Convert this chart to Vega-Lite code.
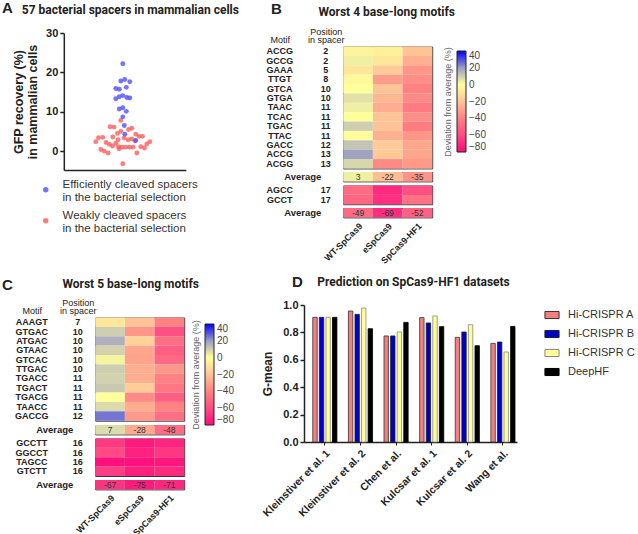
{
  "$schema": "https://vega.github.io/schema/vega-lite/v6.json",
  "padding": {"left": 2, "top": 0, "right": 0, "bottom": 4},
  "config": {
    "font": "Liberation Sans",
    "view": {"stroke": null},
    "axis": {"grid": false, "domainColor": "#222", "tickColor": "#222", "labelColor": "#222", "titleColor": "#222"},
    "title": {"color": "#222"}
  },
  "datasets": {
    "a": [
      {"gfp": 7.8, "jit": -2, "grp": "Weakly cleaved spacers"},
      {"gfp": 6.2, "jit": -12.7, "grp": "Weakly cleaved spacers"},
      {"gfp": 6.1, "jit": -8.7, "grp": "Weakly cleaved spacers"},
      {"gfp": 5.8, "jit": 9, "grp": "Weakly cleaved spacers"},
      {"gfp": 5.5, "jit": 5.7, "grp": "Weakly cleaved spacers"},
      {"gfp": 5.0, "jit": -2, "grp": "Weakly cleaved spacers"},
      {"gfp": 4.5, "jit": -5.3, "grp": "Weakly cleaved spacers"},
      {"gfp": 4.3, "jit": 13, "grp": "Weakly cleaved spacers"},
      {"gfp": 3.6, "jit": -10, "grp": "Weakly cleaved spacers"},
      {"gfp": 3.75, "jit": 16.3, "grp": "Weakly cleaved spacers"},
      {"gfp": 3.75, "jit": 19.7, "grp": "Weakly cleaved spacers"},
      {"gfp": 3.4, "jit": -24.3, "grp": "Weakly cleaved spacers"},
      {"gfp": 3.5, "jit": -20, "grp": "Weakly cleaved spacers"},
      {"gfp": 3.3, "jit": 1.3, "grp": "Weakly cleaved spacers"},
      {"gfp": 3.1, "jit": 9, "grp": "Weakly cleaved spacers"},
      {"gfp": 2.9, "jit": -4.7, "grp": "Weakly cleaved spacers"},
      {"gfp": 2.9, "jit": 5.3, "grp": "Weakly cleaved spacers"},
      {"gfp": 2.4, "jit": -27, "grp": "Weakly cleaved spacers"},
      {"gfp": 2.4, "jit": 27, "grp": "Weakly cleaved spacers"},
      {"gfp": 2.2, "jit": -16.7, "grp": "Weakly cleaved spacers"},
      {"gfp": 1.8, "jit": 24, "grp": "Weakly cleaved spacers"},
      {"gfp": 1.7, "jit": -13.3, "grp": "Weakly cleaved spacers"},
      {"gfp": 1.3, "jit": -10.3, "grp": "Weakly cleaved spacers"},
      {"gfp": 1.0, "jit": -0.7, "grp": "Weakly cleaved spacers"},
      {"gfp": 1.0, "jit": 3, "grp": "Weakly cleaved spacers"},
      {"gfp": 1.0, "jit": 6.7, "grp": "Weakly cleaved spacers"},
      {"gfp": 1.0, "jit": 10.3, "grp": "Weakly cleaved spacers"},
      {"gfp": 1.1, "jit": -4.3, "grp": "Weakly cleaved spacers"},
      {"gfp": 1.1, "jit": 18, "grp": "Weakly cleaved spacers"},
      {"gfp": 0.8, "jit": 21.7, "grp": "Weakly cleaved spacers"},
      {"gfp": 0.4, "jit": -22, "grp": "Weakly cleaved spacers"},
      {"gfp": 0.0, "jit": -18.7, "grp": "Weakly cleaved spacers"},
      {"gfp": -0.5, "jit": -14.7, "grp": "Weakly cleaved spacers"},
      {"gfp": -0.5, "jit": 14, "grp": "Weakly cleaved spacers"},
      {"gfp": 0.6, "jit": -3.7, "grp": "Weakly cleaved spacers"},
      {"gfp": -3.2, "jit": 0, "grp": "Weakly cleaved spacers"},
      {"gfp": 2.0, "jit": -7, "grp": "Weakly cleaved spacers"},
      {"gfp": 2.6, "jit": 12, "grp": "Weakly cleaved spacers"},
      {"gfp": 22.2, "jit": 0, "grp": "Efficiently cleaved spacers"},
      {"gfp": 17.8, "jit": -2, "grp": "Efficiently cleaved spacers"},
      {"gfp": 18.2, "jit": 2, "grp": "Efficiently cleaved spacers"},
      {"gfp": 17.6, "jit": 7, "grp": "Efficiently cleaved spacers"},
      {"gfp": 15.9, "jit": -7, "grp": "Efficiently cleaved spacers"},
      {"gfp": 15.7, "jit": -3.5, "grp": "Efficiently cleaved spacers"},
      {"gfp": 16.2, "jit": 3.5, "grp": "Efficiently cleaved spacers"},
      {"gfp": 13.3, "jit": -7, "grp": "Efficiently cleaved spacers"},
      {"gfp": 13.8, "jit": -3.5, "grp": "Efficiently cleaved spacers"},
      {"gfp": 14.1, "jit": 0, "grp": "Efficiently cleaved spacers"},
      {"gfp": 13.6, "jit": 4, "grp": "Efficiently cleaved spacers"},
      {"gfp": 13.5, "jit": 7, "grp": "Efficiently cleaved spacers"},
      {"gfp": 10.7, "jit": -3.5, "grp": "Efficiently cleaved spacers"},
      {"gfp": 11.0, "jit": 0, "grp": "Efficiently cleaved spacers"},
      {"gfp": 10.1, "jit": 3.5, "grp": "Efficiently cleaved spacers"},
      {"gfp": 8.7, "jit": 0, "grp": "Efficiently cleaved spacers"},
      {"gfp": 6.5, "jit": 1.5, "grp": "Efficiently cleaved spacers"},
      {"gfp": 4.3, "jit": 2, "grp": "Efficiently cleaved spacers"},
      {"gfp": 2.7, "jit": 13, "grp": "Efficiently cleaved spacers"}
    ],
    "b4": [
      {"grp": "m", "key": "ACCG 2", "motif": "ACCG", "pos": "2", "WT-SpCas9": -4, "eSpCas9": -5, "SpCas9-HF1": -20},
      {"grp": "m", "key": "GCCG 2", "motif": "GCCG", "pos": "2", "WT-SpCas9": 3, "eSpCas9": -8, "SpCas9-HF1": -26},
      {"grp": "m", "key": "GAAA 5", "motif": "GAAA", "pos": "5", "WT-SpCas9": -8, "eSpCas9": -18, "SpCas9-HF1": -34},
      {"grp": "m", "key": "TTGT 8", "motif": "TTGT", "pos": "8", "WT-SpCas9": -2, "eSpCas9": -32, "SpCas9-HF1": -36},
      {"grp": "m", "key": "GTCA 10", "motif": "GTCA", "pos": "10", "WT-SpCas9": 0, "eSpCas9": -20, "SpCas9-HF1": -40},
      {"grp": "m", "key": "GTGA 10", "motif": "GTGA", "pos": "10", "WT-SpCas9": 6, "eSpCas9": -24, "SpCas9-HF1": -38},
      {"grp": "m", "key": "TAAC 11", "motif": "TAAC", "pos": "11", "WT-SpCas9": 3, "eSpCas9": -27, "SpCas9-HF1": -43},
      {"grp": "m", "key": "TCAC 11", "motif": "TCAC", "pos": "11", "WT-SpCas9": 0, "eSpCas9": -20, "SpCas9-HF1": -36},
      {"grp": "m", "key": "TGAC 11", "motif": "TGAC", "pos": "11", "WT-SpCas9": 10, "eSpCas9": -20, "SpCas9-HF1": -42},
      {"grp": "m", "key": "TTAC 11", "motif": "TTAC", "pos": "11", "WT-SpCas9": -1, "eSpCas9": -26, "SpCas9-HF1": -34},
      {"grp": "m", "key": "GACC 12", "motif": "GACC", "pos": "12", "WT-SpCas9": 12, "eSpCas9": -18, "SpCas9-HF1": -29},
      {"grp": "m", "key": "ACCG 13", "motif": "ACCG", "pos": "13", "WT-SpCas9": 19, "eSpCas9": -18, "SpCas9-HF1": -29},
      {"grp": "m", "key": "ACGG 13", "motif": "ACGG", "pos": "13", "WT-SpCas9": 8, "eSpCas9": -38, "SpCas9-HF1": -33},
      {"grp": "a1", "key": "Average", "WT-SpCas9": 3, "eSpCas9": -22, "SpCas9-HF1": -35},
      {"grp": "g2", "key": "AGCC 17", "motif": "AGCC", "pos": "17", "WT-SpCas9": -48, "eSpCas9": -70, "SpCas9-HF1": -58},
      {"grp": "g2", "key": "GCCT 17", "motif": "GCCT", "pos": "17", "WT-SpCas9": -50, "eSpCas9": -68, "SpCas9-HF1": -46},
      {"grp": "a2", "key": "Average", "WT-SpCas9": -49, "eSpCas9": -69, "SpCas9-HF1": -52}
    ],
    "c5": [
      {"grp": "m", "key": "AAAGT 7", "motif": "AAAGT", "pos": "7", "WT-SpCas9": -8, "eSpCas9": -20, "SpCas9-HF1": -40},
      {"grp": "m", "key": "GTGAC 10", "motif": "GTGAC", "pos": "10", "WT-SpCas9": 10, "eSpCas9": -34, "SpCas9-HF1": -58},
      {"grp": "m", "key": "ATGAC 10", "motif": "ATGAC", "pos": "10", "WT-SpCas9": 16, "eSpCas9": -15, "SpCas9-HF1": -47},
      {"grp": "m", "key": "GTAAC 10", "motif": "GTAAC", "pos": "10", "WT-SpCas9": 9, "eSpCas9": -29, "SpCas9-HF1": -53},
      {"grp": "m", "key": "GTCAC 10", "motif": "GTCAC", "pos": "10", "WT-SpCas9": 2, "eSpCas9": -30, "SpCas9-HF1": -49},
      {"grp": "m", "key": "TTGAC 10", "motif": "TTGAC", "pos": "10", "WT-SpCas9": 10, "eSpCas9": -27, "SpCas9-HF1": -34},
      {"grp": "m", "key": "TGACC 11", "motif": "TGACC", "pos": "11", "WT-SpCas9": 9, "eSpCas9": -27, "SpCas9-HF1": -40},
      {"grp": "m", "key": "TGACT 11", "motif": "TGACT", "pos": "11", "WT-SpCas9": 11, "eSpCas9": -17, "SpCas9-HF1": -44},
      {"grp": "m", "key": "TGACG 11", "motif": "TGACG", "pos": "11", "WT-SpCas9": 0, "eSpCas9": -38, "SpCas9-HF1": -53},
      {"grp": "m", "key": "TAACC 11", "motif": "TAACC", "pos": "11", "WT-SpCas9": 7, "eSpCas9": -27, "SpCas9-HF1": -40},
      {"grp": "m", "key": "GACCG 12", "motif": "GACCG", "pos": "12", "WT-SpCas9": 25, "eSpCas9": -33, "SpCas9-HF1": -47},
      {"grp": "a1", "key": "Average", "WT-SpCas9": 7, "eSpCas9": -28, "SpCas9-HF1": -48},
      {"grp": "g2", "key": "GCCTT 16", "motif": "GCCTT", "pos": "16", "WT-SpCas9": -65, "eSpCas9": -75, "SpCas9-HF1": -72},
      {"grp": "g2", "key": "GGCCT 16", "motif": "GGCCT", "pos": "16", "WT-SpCas9": -60, "eSpCas9": -73, "SpCas9-HF1": -66},
      {"grp": "g2", "key": "TAGCC 16", "motif": "TAGCC", "pos": "16", "WT-SpCas9": -78, "eSpCas9": -78, "SpCas9-HF1": -76},
      {"grp": "g2", "key": "GTCTT 16", "motif": "GTCTT", "pos": "16", "WT-SpCas9": -64, "eSpCas9": -74, "SpCas9-HF1": -70},
      {"grp": "a2", "key": "Average", "WT-SpCas9": -67, "eSpCas9": -75, "SpCas9-HF1": -71}
    ],
    "d": [
      {"ds": "Kleinstiver et al. 1", "model": "Hi-CRISPR A", "g": 0.91},
      {"ds": "Kleinstiver et al. 1", "model": "Hi-CRISPR B", "g": 0.91},
      {"ds": "Kleinstiver et al. 1", "model": "Hi-CRISPR C", "g": 0.91},
      {"ds": "Kleinstiver et al. 1", "model": "DeepHF", "g": 0.91},
      {"ds": "Kleinstiver et al. 2", "model": "Hi-CRISPR A", "g": 0.956},
      {"ds": "Kleinstiver et al. 2", "model": "Hi-CRISPR B", "g": 0.932},
      {"ds": "Kleinstiver et al. 2", "model": "Hi-CRISPR C", "g": 0.978},
      {"ds": "Kleinstiver et al. 2", "model": "DeepHF", "g": 0.827},
      {"ds": "Chen et al.", "model": "Hi-CRISPR A", "g": 0.774},
      {"ds": "Chen et al.", "model": "Hi-CRISPR B", "g": 0.774},
      {"ds": "Chen et al.", "model": "Hi-CRISPR C", "g": 0.803},
      {"ds": "Chen et al.", "model": "DeepHF", "g": 0.873},
      {"ds": "Kulcsar et al. 1", "model": "Hi-CRISPR A", "g": 0.908},
      {"ds": "Kulcsar et al. 1", "model": "Hi-CRISPR B", "g": 0.869},
      {"ds": "Kulcsar et al. 1", "model": "Hi-CRISPR C", "g": 0.92},
      {"ds": "Kulcsar et al. 1", "model": "DeepHF", "g": 0.842},
      {"ds": "Kulcsar et al. 2", "model": "Hi-CRISPR A", "g": 0.764},
      {"ds": "Kulcsar et al. 2", "model": "Hi-CRISPR B", "g": 0.803},
      {"ds": "Kulcsar et al. 2", "model": "Hi-CRISPR C", "g": 0.856},
      {"ds": "Kulcsar et al. 2", "model": "DeepHF", "g": 0.703},
      {"ds": "Wang et al.", "model": "Hi-CRISPR A", "g": 0.72},
      {"ds": "Wang et al.", "model": "Hi-CRISPR B", "g": 0.73},
      {"ds": "Wang et al.", "model": "Hi-CRISPR C", "g": 0.657},
      {"ds": "Wang et al.", "model": "DeepHF", "g": 0.844}
    ]
  },
  "resolve": {"scale": {"color": "independent"}, "legend": {"color": "independent"}},
  "spacing": 9,
  "vconcat": [
    {
      "resolve": {"scale": {"color": "independent"}, "legend": {"color": "independent"}},
      "spacing": 27,
      "hconcat": [
        {
          "bounds": "flush",
          "spacing": 44.8,
          "hconcat": [
            {"width": 1, "height": 1, "data": {"values": []}, "mark": "point",
             "title": {"text": "A", "anchor": "start", "frame": "group", "fontSize": 15, "fontWeight": "bold", "offset": 17.5, "dx": -16}},
            {
              "width": 122, "height": 137,
              "title": {"text": "57 bacterial spacers in mammalian cells", "anchor": "start", "frame": "group", "dx": -42, "offset": 10, "font": "Roboto", "fontSize": 12, "fontWeight": "bold"},
              "data": {"name": "a"},
              "mark": {"type": "circle", "size": 24, "opacity": 0.8},
              "encoding": {
                "x": {"field": "jit", "type": "quantitative", "scale": {"domain": [-59, 63], "nice": false, "zero": false},
                      "axis": {"labels": false, "ticks": false, "title": null, "domainWidth": 1.5}},
                "y": {"field": "gfp", "type": "quantitative", "scale": {"domain": [-4.8, 30], "nice": false, "zero": false},
                      "axis": {"values": [0, 10, 20, 30], "title": ["GFP recovery (%)", "in mammalian cells"], "titleFontSize": 12.5, "titleFontWeight": "bold", "titleLineHeight": 14, "titlePadding": 6, "labelFontSize": 11, "labelFontWeight": "bold", "tickSize": 4, "domainWidth": 1.5, "tickWidth": 1.5}},
                "color": {"field": "grp", "type": "nominal",
                          "scale": {"domain": ["Efficiently cleaved spacers", "Weakly cleaved spacers"], "range": ["#5050ff", "#ff5c5c"]},
                          "legend": {"orient": "none", "legendX": 22, "legendY": 151, "title": null, "labelExpr": "[datum.label, 'in the bacterial selection']", "labelFontSize": 11.5, "labelColor": "#333", "labelLineHeight": 11.5, "labelBaseline": "bottom", "symbolType": "circle", "symbolSize": 30, "symbolOpacity": 0.8, "rowPadding": 5, "labelOffset": 11}}
              }
            }
          ]
        },
        {
          "concat": [
            {"width": 1, "height": 9.5, "data": {"values": []}, "mark": "point"},
            {"width": 1, "height": 9.5, "data": {"values": []}, "mark": "point"},
            {
              "width": 73.6, "height": {"step": 9.38},
              "title": {"text": "B", "anchor": "start", "frame": "group", "fontSize": 15, "fontWeight": "bold", "offset": 11, "dx": 5},
              "data": {"name": "b4"},
              "transform": [{"filter": "datum.grp == 'm'"}],
              "encoding": {"y": {"field": "key", "type": "nominal", "sort": null, "scale": {"type": "band", "paddingInner": 0, "paddingOuter": 0}, "axis": null}},
              "layer": [
                {"mark": {"type": "text", "fontSize": 9, "fontWeight": "bold", "color": "#222"},
                 "encoding": {"x": {"datum": "Motif", "type": "nominal", "scale": {"type": "point", "domain": ["Motif", "Position in spacer"], "padding": 0.3},
                                    "axis": {"orient": "top", "title": null, "domain": false, "ticks": false, "labelAngle": 0, "labelFontSize": 9, "labelColor": "#222", "labelPadding": 10, "labelLineHeight": 8, "labelExpr": "datum.label == 'Position in spacer' ? ['Position', 'in spacer'] : ['', datum.label]"}},
                              "text": {"field": "motif"}}},
                {"mark": {"type": "text", "fontSize": 9, "fontWeight": "bold", "color": "#222"},
                 "encoding": {"x": {"datum": "Position in spacer", "type": "nominal"}, "text": {"field": "pos"}}}
              ]
            },
            {
              "width": 89, "height": {"step": 9.38},
              "title": {"text": "Worst 4 base-long motifs", "anchor": "middle", "frame": "group", "dx": -1, "offset": 28, "font": "Roboto", "fontSize": 12, "fontWeight": "bold"},
              "view": {"stroke": "#333", "strokeWidth": 1},
              "data": {"name": "b4"},
              "transform": [{"filter": "datum.grp == 'm'"}, {"fold": ["WT-SpCas9", "eSpCas9", "SpCas9-HF1"], "as": ["variant", "value"]}],
              "mark": "rect",
              "encoding": {
                "x": {"field": "variant", "type": "nominal", "sort": ["WT-SpCas9", "eSpCas9", "SpCas9-HF1"], "scale": {"paddingInner": 0, "paddingOuter": 0}, "axis": null},
                "y": {"field": "key", "type": "nominal", "sort": null, "scale": {"paddingInner": 0, "paddingOuter": 0}, "axis": null},
                "color": {"field": "value", "type": "quantitative",
                          "scale": {"type": "linear", "domain": [-80, -60, -40, -20, 0, 20, 40], "range": ["#ff0a7c", "#ff4a84", "#ff8282", "#ffc496", "#ffff9c", "#9c9cc4", "#0000ff"], "interpolate": "rgb", "clamp": true},
                          "legend": {"orient": "none", "legendX": 178, "legendY": 18, "direction": "vertical", "gradientLength": 101, "gradientThickness": 9, "values": [-80, -60, -40, -20, 0, 20, 40], "title": "Deviation from average (%)", "titleOrient": "left", "titleFontSize": 9, "titleFontWeight": "normal", "titleColor": "#666", "titlePadding": 3, "labelFontSize": 10, "labelColor": "#444", "labelOffset": 3, "gradientStrokeColor": "#222", "gradientStrokeWidth": 1,
                                     "encode": {"title": {"update": {"angle": {"value": -90}}}}}}
              }
            },
            {
              "width": 73.6, "height": 9.38,
              "data": {"values": [{"t": "Average"}]},
              "mark": {"type": "text", "fontSize": 9.5, "fontWeight": "bold", "color": "#222"},
              "encoding": {"text": {"field": "t"}}
            },
            {
              "width": 89, "height": {"step": 9.38},
              "view": {"stroke": "#333", "strokeWidth": 1},
              "data": {"name": "b4"},
              "transform": [{"filter": "datum.grp == 'a1'"}, {"fold": ["WT-SpCas9", "eSpCas9", "SpCas9-HF1"], "as": ["variant", "value"]}],
              "encoding": {
                "x": {"field": "variant", "type": "nominal", "sort": ["WT-SpCas9", "eSpCas9", "SpCas9-HF1"], "scale": {"paddingInner": 0, "paddingOuter": 0}, "axis": null},
                "y": {"field": "key", "type": "nominal", "sort": null, "scale": {"type": "band", "paddingInner": 0, "paddingOuter": 0}, "axis": null}
              },
              "layer": [
                {"mark": "rect", "encoding": {"color": {"field": "value", "type": "quantitative", "scale": {"type": "linear", "domain": [-80, -60, -40, -20, 0, 20, 40], "range": ["#ff0a7c", "#ff4a84", "#ff8282", "#ffc496", "#ffff9c", "#9c9cc4", "#0000ff"], "interpolate": "rgb", "clamp": true}}}},
                {"mark": {"type": "text", "fontSize": 8.5, "color": "#333"}, "encoding": {"text": {"field": "value"}}}
              ]
            },
            {
              "width": 73.6, "height": {"step": 9.38},
              "data": {"name": "b4"},
              "transform": [{"filter": "datum.grp == 'g2'"}],
              "encoding": {"y": {"field": "key", "type": "nominal", "sort": null, "scale": {"type": "band", "paddingInner": 0, "paddingOuter": 0}, "axis": null}},
              "layer": [
                {"mark": {"type": "text", "fontSize": 9, "fontWeight": "bold", "color": "#222"},
                 "encoding": {"x": {"datum": "Motif", "type": "nominal", "scale": {"type": "point", "domain": ["Motif", "Position in spacer"], "padding": 0.3}, "axis": null},
                              "text": {"field": "motif"}}},
                {"mark": {"type": "text", "fontSize": 9, "fontWeight": "bold", "color": "#222"},
                 "encoding": {"x": {"datum": "Position in spacer", "type": "nominal"}, "text": {"field": "pos"}}}
              ]
            },
            {
              "width": 89, "height": {"step": 9.38},
              "view": {"stroke": "#333", "strokeWidth": 1},
              "data": {"name": "b4"},
              "transform": [{"filter": "datum.grp == 'g2'"}, {"fold": ["WT-SpCas9", "eSpCas9", "SpCas9-HF1"], "as": ["variant", "value"]}],
              "mark": "rect",
              "encoding": {
                "x": {"field": "variant", "type": "nominal", "sort": ["WT-SpCas9", "eSpCas9", "SpCas9-HF1"], "scale": {"paddingInner": 0, "paddingOuter": 0}, "axis": null},
                "y": {"field": "key", "type": "nominal", "sort": null, "scale": {"paddingInner": 0, "paddingOuter": 0}, "axis": null},
                "color": {"field": "value", "type": "quantitative", "scale": {"type": "linear", "domain": [-80, -60, -40, -20, 0, 20, 40], "range": ["#ff0a7c", "#ff4a84", "#ff8282", "#ffc496", "#ffff9c", "#9c9cc4", "#0000ff"], "interpolate": "rgb", "clamp": true}}
              }
            },
            {
              "width": 73.6, "height": 9.38,
              "data": {"values": [{"t": "Average"}]},
              "mark": {"type": "text", "fontSize": 9.5, "fontWeight": "bold", "color": "#222"},
              "encoding": {"text": {"field": "t"}}
            },
            {
              "width": 89, "height": {"step": 9.38},
              "view": {"stroke": "#333", "strokeWidth": 1},
              "data": {"name": "b4"},
              "transform": [{"filter": "datum.grp == 'a2'"}, {"fold": ["WT-SpCas9", "eSpCas9", "SpCas9-HF1"], "as": ["variant", "value"]}],
              "encoding": {
                "x": {"field": "variant", "type": "nominal", "sort": ["WT-SpCas9", "eSpCas9", "SpCas9-HF1"], "scale": {"paddingInner": 0, "paddingOuter": 0},
                      "axis": {"orient": "bottom", "title": null, "domain": false, "ticks": false, "labelAngle": -45, "labelAlign": "right", "labelBaseline": "top", "labelFontSize": 9, "labelFontWeight": "bold", "labelColor": "#222", "labelPadding": 4}},
                "y": {"field": "key", "type": "nominal", "sort": null, "scale": {"type": "band", "paddingInner": 0, "paddingOuter": 0}, "axis": null}
              },
              "layer": [
                {"mark": "rect", "encoding": {"color": {"field": "value", "type": "quantitative", "scale": {"type": "linear", "domain": [-80, -60, -40, -20, 0, 20, 40], "range": ["#ff0a7c", "#ff4a84", "#ff8282", "#ffc496", "#ffff9c", "#9c9cc4", "#0000ff"], "interpolate": "rgb", "clamp": true}}}},
                {"mark": {"type": "text", "fontSize": 8.5, "color": "#333"}, "encoding": {"text": {"field": "value"}}}
              ]
            }
          ],
          "columns": 2,
          "align": "each",
          "bounds": "flush",
          "spacing": {"row": 3.5, "column": 3.2},
          "resolve": {"scale": {"color": "shared"}, "legend": {"color": "shared"}}
        }
      ]
    },
    {
      "resolve": {"scale": {"color": "independent"}, "legend": {"color": "independent"}},
      "spacing": 27,
      "hconcat": [
        {
          "concat": [
            {"width": 1, "height": 8.5, "data": {"values": []}, "mark": "point"},
            {"width": 1, "height": 8.5, "data": {"values": []}, "mark": "point"},
            {
              "width": 73.6, "height": {"step": 9.38},
              "title": {"text": "C", "anchor": "start", "frame": "group", "fontSize": 15, "fontWeight": "bold", "offset": 6, "dx": -16},
              "data": {"name": "c5"},
              "transform": [{"filter": "datum.grp == 'm'"}],
              "encoding": {"y": {"field": "key", "type": "nominal", "sort": null, "scale": {"type": "band", "paddingInner": 0, "paddingOuter": 0}, "axis": null}},
              "layer": [
                {"mark": {"type": "text", "fontSize": 9, "fontWeight": "bold", "color": "#222"},
                 "encoding": {"x": {"datum": "Motif", "type": "nominal", "scale": {"type": "point", "domain": ["Motif", "Position in spacer"], "padding": 0.3},
                                    "axis": {"orient": "top", "title": null, "domain": false, "ticks": false, "labelAngle": 0, "labelFontSize": 9, "labelColor": "#222", "labelPadding": 10, "labelLineHeight": 8, "labelExpr": "datum.label == 'Position in spacer' ? ['Position', 'in spacer'] : ['', datum.label]"}},
                              "text": {"field": "motif"}}},
                {"mark": {"type": "text", "fontSize": 9, "fontWeight": "bold", "color": "#222"},
                 "encoding": {"x": {"datum": "Position in spacer", "type": "nominal"}, "text": {"field": "pos"}}}
              ]
            },
            {
              "width": 89, "height": {"step": 9.38},
              "title": {"text": "Worst 5 base-long motifs", "anchor": "middle", "frame": "group", "dx": -9, "offset": 27, "font": "Roboto", "fontSize": 12, "fontWeight": "bold"},
              "view": {"stroke": "#333", "strokeWidth": 1},
              "data": {"name": "c5"},
              "transform": [{"filter": "datum.grp == 'm'"}, {"fold": ["WT-SpCas9", "eSpCas9", "SpCas9-HF1"], "as": ["variant", "value"]}],
              "mark": "rect",
              "encoding": {
                "x": {"field": "variant", "type": "nominal", "sort": ["WT-SpCas9", "eSpCas9", "SpCas9-HF1"], "scale": {"paddingInner": 0, "paddingOuter": 0}, "axis": null},
                "y": {"field": "key", "type": "nominal", "sort": null, "scale": {"paddingInner": 0, "paddingOuter": 0}, "axis": null},
                "color": {"field": "value", "type": "quantitative",
                          "scale": {"type": "linear", "domain": [-80, -60, -40, -20, 0, 20, 40], "range": ["#ff0a7c", "#ff4a84", "#ff8282", "#ffc496", "#ffff9c", "#9c9cc4", "#0000ff"], "interpolate": "rgb", "clamp": true},
                          "legend": {"orient": "none", "legendX": 174, "legendY": 19, "direction": "vertical", "gradientLength": 101, "gradientThickness": 9, "values": [-80, -60, -40, -20, 0, 20, 40], "title": "Deviation from average (%)", "titleOrient": "left", "titleFontSize": 9, "titleFontWeight": "normal", "titleColor": "#666", "titlePadding": 3, "labelFontSize": 10, "labelColor": "#444", "labelOffset": 3, "gradientStrokeColor": "#222", "gradientStrokeWidth": 1,
                                     "encode": {"title": {"update": {"angle": {"value": -90}}}}}}
              }
            },
            {
              "width": 73.6, "height": 9.38,
              "data": {"values": [{"t": "Average"}]},
              "mark": {"type": "text", "fontSize": 9.5, "fontWeight": "bold", "color": "#222"},
              "encoding": {"text": {"field": "t"}}
            },
            {
              "width": 89, "height": {"step": 9.38},
              "view": {"stroke": "#333", "strokeWidth": 1},
              "data": {"name": "c5"},
              "transform": [{"filter": "datum.grp == 'a1'"}, {"fold": ["WT-SpCas9", "eSpCas9", "SpCas9-HF1"], "as": ["variant", "value"]}],
              "encoding": {
                "x": {"field": "variant", "type": "nominal", "sort": ["WT-SpCas9", "eSpCas9", "SpCas9-HF1"], "scale": {"paddingInner": 0, "paddingOuter": 0}, "axis": null},
                "y": {"field": "key", "type": "nominal", "sort": null, "scale": {"type": "band", "paddingInner": 0, "paddingOuter": 0}, "axis": null}
              },
              "layer": [
                {"mark": "rect", "encoding": {"color": {"field": "value", "type": "quantitative", "scale": {"type": "linear", "domain": [-80, -60, -40, -20, 0, 20, 40], "range": ["#ff0a7c", "#ff4a84", "#ff8282", "#ffc496", "#ffff9c", "#9c9cc4", "#0000ff"], "interpolate": "rgb", "clamp": true}}}},
                {"mark": {"type": "text", "fontSize": 8.5, "color": "#333"}, "encoding": {"text": {"field": "value"}}}
              ]
            },
            {
              "width": 73.6, "height": {"step": 9.38},
              "data": {"name": "c5"},
              "transform": [{"filter": "datum.grp == 'g2'"}],
              "encoding": {"y": {"field": "key", "type": "nominal", "sort": null, "scale": {"type": "band", "paddingInner": 0, "paddingOuter": 0}, "axis": null}},
              "layer": [
                {"mark": {"type": "text", "fontSize": 9, "fontWeight": "bold", "color": "#222"},
                 "encoding": {"x": {"datum": "Motif", "type": "nominal", "scale": {"type": "point", "domain": ["Motif", "Position in spacer"], "padding": 0.3}, "axis": null},
                              "text": {"field": "motif"}}},
                {"mark": {"type": "text", "fontSize": 9, "fontWeight": "bold", "color": "#222"},
                 "encoding": {"x": {"datum": "Position in spacer", "type": "nominal"}, "text": {"field": "pos"}}}
              ]
            },
            {
              "width": 89, "height": {"step": 9.38},
              "view": {"stroke": "#333", "strokeWidth": 1},
              "data": {"name": "c5"},
              "transform": [{"filter": "datum.grp == 'g2'"}, {"fold": ["WT-SpCas9", "eSpCas9", "SpCas9-HF1"], "as": ["variant", "value"]}],
              "mark": "rect",
              "encoding": {
                "x": {"field": "variant", "type": "nominal", "sort": ["WT-SpCas9", "eSpCas9", "SpCas9-HF1"], "scale": {"paddingInner": 0, "paddingOuter": 0}, "axis": null},
                "y": {"field": "key", "type": "nominal", "sort": null, "scale": {"paddingInner": 0, "paddingOuter": 0}, "axis": null},
                "color": {"field": "value", "type": "quantitative", "scale": {"type": "linear", "domain": [-80, -60, -40, -20, 0, 20, 40], "range": ["#ff0a7c", "#ff4a84", "#ff8282", "#ffc496", "#ffff9c", "#9c9cc4", "#0000ff"], "interpolate": "rgb", "clamp": true}}
              }
            },
            {
              "width": 73.6, "height": 9.38,
              "data": {"values": [{"t": "Average"}]},
              "mark": {"type": "text", "fontSize": 9.5, "fontWeight": "bold", "color": "#222"},
              "encoding": {"text": {"field": "t"}}
            },
            {
              "width": 89, "height": {"step": 9.38},
              "view": {"stroke": "#333", "strokeWidth": 1},
              "data": {"name": "c5"},
              "transform": [{"filter": "datum.grp == 'a2'"}, {"fold": ["WT-SpCas9", "eSpCas9", "SpCas9-HF1"], "as": ["variant", "value"]}],
              "encoding": {
                "x": {"field": "variant", "type": "nominal", "sort": ["WT-SpCas9", "eSpCas9", "SpCas9-HF1"], "scale": {"paddingInner": 0, "paddingOuter": 0},
                      "axis": {"orient": "bottom", "title": null, "domain": false, "ticks": false, "labelAngle": -45, "labelAlign": "right", "labelBaseline": "top", "labelFontSize": 9, "labelFontWeight": "bold", "labelColor": "#222", "labelPadding": 4}},
                "y": {"field": "key", "type": "nominal", "sort": null, "scale": {"type": "band", "paddingInner": 0, "paddingOuter": 0}, "axis": null}
              },
              "layer": [
                {"mark": "rect", "encoding": {"color": {"field": "value", "type": "quantitative", "scale": {"type": "linear", "domain": [-80, -60, -40, -20, 0, 20, 40], "range": ["#ff0a7c", "#ff4a84", "#ff8282", "#ffc496", "#ffff9c", "#9c9cc4", "#0000ff"], "interpolate": "rgb", "clamp": true}}}},
                {"mark": {"type": "text", "fontSize": 8.5, "color": "#333"}, "encoding": {"text": {"field": "value"}}}
              ]
            }
          ],
          "columns": 2,
          "align": "each",
          "bounds": "flush",
          "spacing": {"row": 3.5, "column": 3.2},
          "resolve": {"scale": {"color": "shared"}, "legend": {"color": "shared"}}
        },
        {
          "bounds": "flush",
          "spacing": 29,
          "resolve": {"scale": {"color": "independent", "stroke": "independent"}, "legend": {"color": "independent"}},
          "hconcat": [
            {"width": 1, "height": 1, "data": {"values": []}, "mark": "point",
             "title": {"text": "D", "anchor": "start", "frame": "group", "fontSize": 15, "fontWeight": "bold", "offset": 15, "dx": 18}},
            {
              "width": 213, "height": 137,
              "title": {"text": "Prediction on SpCas9-HF1 datasets", "anchor": "middle", "frame": "group", "dx": 3, "offset": 10, "font": "Roboto", "fontSize": 12, "fontWeight": "bold"},
              "data": {"name": "d"},
              "mark": {"type": "bar", "strokeWidth": 0.8},
              "encoding": {
                "x": {"field": "ds", "type": "nominal", "sort": null, "scale": {"paddingInner": 0.3, "paddingOuter": 0.14, "align": 0.84},
                      "axis": {"title": null, "labelAngle": -45, "labelAlign": "right", "labelBaseline": "top", "tickSize": 3, "labelFontSize": 10.5, "labelFontWeight": "bold", "domainWidth": 1.5, "labelPadding": 3}},
                "xOffset": {"field": "model", "type": "nominal", "sort": ["Hi-CRISPR A", "Hi-CRISPR B", "Hi-CRISPR C", "DeepHF"], "scale": {"paddingInner": 0.33, "paddingOuter": 0.06}},
                "y": {"field": "g", "type": "quantitative", "scale": {"domain": [0, 1], "nice": false},
                      "axis": {"values": [0, 0.2, 0.4, 0.6, 0.8, 1], "format": ".1f", "title": "G-mean", "titleFontSize": 12, "titleFontWeight": "bold", "titlePadding": 8, "labelFontSize": 11, "labelFontWeight": "bold", "tickSize": 4, "domainWidth": 1.5, "tickWidth": 1.5}},
                "color": {"field": "model", "type": "nominal",
                          "scale": {"domain": ["Hi-CRISPR A", "Hi-CRISPR B", "Hi-CRISPR C", "DeepHF"], "range": ["#f47f7f", "#0000c8", "#ffff99", "#000000"]},
                          "legend": {"orient": "none", "legendX": 240, "legendY": 2, "title": null, "symbolType": "M-1,-0.5H1V0.5H-1Z", "symbolSize": 200, "symbolStrokeColor": "#444", "symbolStrokeWidth": 1, "symbolOpacity": 1, "labelFontSize": 11, "labelColor": "#333", "rowPadding": 5, "labelOffset": 8}},
                "stroke": {"field": "model", "type": "nominal", "scale": {"domain": ["Hi-CRISPR A", "Hi-CRISPR B", "Hi-CRISPR C", "DeepHF"], "range": ["#333333", "#222222", "#888888", "#000000"]}, "legend": null}
              }
            }
          ]
        }
      ]
    }
  ]
}
